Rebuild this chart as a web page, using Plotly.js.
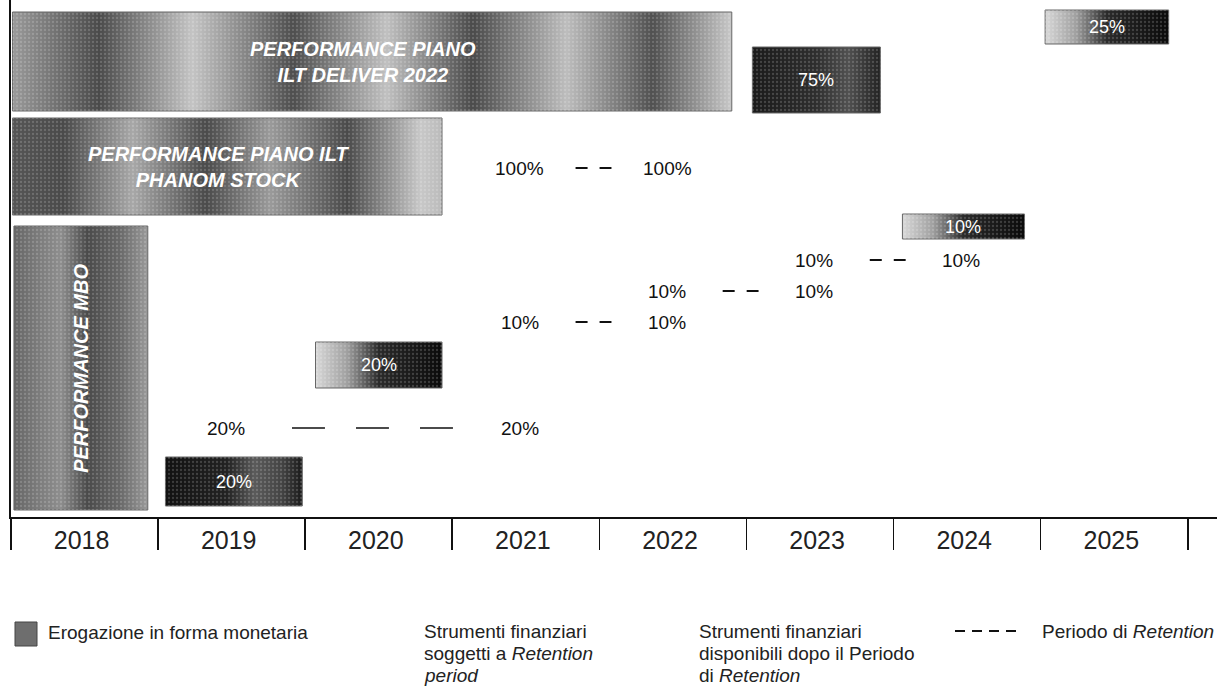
<!DOCTYPE html>
<html><head><meta charset="utf-8">
<script src="https://cdn.plot.ly/plotly-3.0.1.min.js"></script>
<style>html,body{margin:0;padding:0;background:#fff}#chart{width:1217px;height:690px}</style>
</head><body><div id="chart"></div>
<script>
// ---------- DATA ----------
const years = [2018, 2019, 2020, 2021, 2022, 2023, 2024, 2025];
const yearBounds = [2018, 2019, 2020, 2021, 2022, 2023, 2024, 2025, 2026];

// Cash payments (Erogazione in forma monetaria) - blocks on the timeline
const barLabels = ['PERFORMANCE PIANO<br>ILT DELIVER 2022', '75%', '25%',
                   'PERFORMANCE PIANO ILT<br>PHANOM STOCK', 'PERFORMANCE MBO',
                   '20%', '20%', '10%'];
const barStart  = [2018.01, 2023.04, 2025.03, 2018.01, 2018.02, 2019.05, 2020.07, 2024.06];
const barEnd    = [2022.90, 2023.91, 2025.87, 2020.93, 2018.93, 2019.98, 2020.93, 2024.89];
const barBottom = [40.6, 40.4, 47.3, 30.2, 0.7, 1.1, 12.9, 27.8];
const barTop    = [50.5, 47.0, 50.7, 39.9, 29.1, 6.0, 17.5, 30.3];

// Retention periods: share, start year, end year, row level
const retPct   = ['100%', '20%', '10%', '10%', '10%'];
const retStart = [2021, 2019, 2021, 2022, 2023];
const retEnd   = [2022, 2021, 2022, 2023, 2024];
const retRow   = [34.9, 8.9, 19.5, 22.6, 25.7];

// Legend texts
const legendItems = ['Erogazione in forma monetaria',
  ['Strumenti finanziari', 'soggetti a <i>Retention</i>', '<i>period</i>'],
  ['Strumenti finanziari', 'disponibili dopo il Periodo', 'di <i>Retention</i>'],
  'Periodo di <i>Retention</i>'];

// ---------- STYLE ----------
const FONT = 'Liberation Sans, Arial, Helvetica, sans-serif';
const scales = {
  band1: [[0,'#9a9a9a'],[0.12,'#4a4a4a'],[0.25,'#c4c4c4'],[0.39,'#4e4e4e'],[0.52,'#c0c0c0'],[0.64,'#4a4a4a'],[0.77,'#bdbdbd'],[0.89,'#505050'],[1,'#c8c8c8']],
  band2: [[0,'#555'],[0.12,'#4a4a4a'],[0.28,'#a8a8a8'],[0.45,'#4a4a4a'],[0.6,'#9a9a9a'],[0.78,'#4a4a4a'],[0.95,'#c8c8c8'],[1,'#bbb']],
  mbo:   [[0,'#666'],[0.35,'#8e8e8e'],[0.55,'#4a4a4a'],[0.8,'#6a6a6a'],[1,'#9a9a9a']],
  dark:  [[0,'#1a1a1a'],[0.5,'#2e2e2e'],[0.75,'#505050'],[1,'#222']],
  fade:  [[0,'#d8d8d8'],[0.25,'#a0a0a0'],[0.5,'#2a2a2a'],[1,'#0a0a0a']],
  dark2: [[0,'#111'],[0.45,'#222'],[0.65,'#5a5a5a'],[0.85,'#444'],[1,'#1a1a1a']]
};
const barScale = ['band1','dark','fade','band2','mbo','dark2','fade','fade'];

// ---------- TRACES ----------
const traces = [];
barLabels.forEach((lab, i) => {
  const x0 = barStart[i], x1 = barEnd[i], y0 = barBottom[i], y1 = barTop[i];
  const xs = [x0, x1, x1, x0, x0], ys = [y0, y0, y1, y1, y0];
  traces.push({
    type: 'scatter', mode: 'lines', x: xs, y: ys,
    fill: 'toself', fillgradient: {type: 'horizontal', colorscale: scales[barScale[i]]},
    line: {color: '#666', width: 1}, hoverinfo: 'skip', showlegend: false
  });
  // speckle overlay imitating the printed halftone texture
  traces.push({
    type: 'scatter', mode: 'lines', x: xs, y: ys, fill: 'toself',
    fillcolor: 'rgba(0,0,0,0)',
    fillpattern: {shape: '.', size: 4, solidity: 0.25, fgcolor: 'rgba(255,255,255,0.35)', bgcolor: 'rgba(0,0,0,0)', fillmode: 'overlay'},
    line: {width: 0}, hoverinfo: 'skip', showlegend: false
  });
});
retPct.forEach((p, i) => {
  const span = retEnd[i] - retStart[i];
  const mid = (retStart[i] + retEnd[i]) / 2 + 0.46;
  const h = span >= 2 ? 0.55 : 0.122;
  traces.push({
    type: 'scatter', mode: 'lines', x: [mid - h, mid + h], y: [retRow[i], retRow[i]],
    line: {color: '#111', width: span >= 2 ? 1.3 : 2, dash: span >= 2 ? '33px,31px' : '12px,12px'},
    hoverinfo: 'skip', showlegend: false
  });
});

// ---------- ANNOTATIONS ----------
const ann = [];
barLabels.forEach((lab, i) => {
  const isTitle = lab.indexOf('PERFORMANCE') >= 0;
  const vertical = (barTop[i] - barBottom[i]) > 20;
  ann.push({
    xref: 'x', yref: 'y', x: (barStart[i] + barEnd[i]) / 2 - (isTitle && !vertical ? 0.06 : 0),
    y: (barBottom[i] + barTop[i]) / 2,
    text: isTitle ? '<b><i>' + lab + '</i></b>' : lab, showarrow: false,
    textangle: vertical ? -90 : 0,
    font: {family: FONT, size: isTitle ? 20 : 18, color: '#fff'}
  });
});
retPct.forEach((p, i) => {
  [retStart[i], retEnd[i]].forEach(yr => {
    ann.push({xref: 'x', yref: 'y', x: yr + 0.46, y: retRow[i], text: p, showarrow: false,
      font: {family: FONT, size: 19, color: '#111'}});
  });
});
// legend (paper coords: plot area is 11..1217 px wide, 0..517 px tall)
const px = v => (v - 11) / 1206;
const py = v => (517 - v) / 517;
ann.push({xref: 'paper', yref: 'paper', x: px(46), y: py(632), xanchor: 'left', yanchor: 'middle',
  text: legendItems[0], showarrow: false, font: {family: FONT, size: 19, color: '#222'}});
[[422, legendItems[1]], [697, legendItems[2]]].forEach(([x, lines]) => {
  lines.forEach((t, k) => ann.push({xref: 'paper', yref: 'paper', x: px(x), y: py(631 + k * 22.5),
    xanchor: 'left', yanchor: 'middle', text: t, showarrow: false,
    font: {family: FONT, size: 19, color: '#222'}}));
});
ann.push({xref: 'paper', yref: 'paper', x: px(1040), y: py(631), xanchor: 'left', yanchor: 'middle',
  text: legendItems[3], showarrow: false, font: {family: FONT, size: 19, color: '#222'}});

const shapes = [
  {type: 'rect', xref: 'paper', yref: 'paper', x0: px(15), x1: px(37), y0: py(646), y1: py(622),
   fillcolor: '#6e6e6e', line: {color: '#444', width: 1}},
  {type: 'line', xref: 'paper', yref: 'paper', x0: px(955), x1: px(1022), y0: py(631), y1: py(631),
   line: {color: '#111', width: 2, dash: '10px,7px'}}
];

const layout = {
  width: 1217, height: 690, margin: {l: 11, r: 0, t: 0, b: 173},
  paper_bgcolor: '#fff', plot_bgcolor: '#fff', showlegend: false,
  xaxis: {range: [2018, 2018 + 1206 / 147.1], tickmode: 'array', tickvals: years.map(y => y + 0.48),
    ticktext: years.map(String), ticks: '', showgrid: false, zeroline: false,
    showline: true, linecolor: '#111', linewidth: 2, ticklabelstandoff: 0,
    tickfont: {family: FONT, size: 25, color: '#222'},
    minor: {tickmode: 'array', tickvals: yearBounds, ticks: 'outside', ticklen: 31, tickwidth: 1.6, tickcolor: '#111', showgrid: false},
    fixedrange: true},
  yaxis: {range: [0, 51.7], showticklabels: false, ticks: '', showgrid: false, zeroline: false,
    showline: true, linecolor: '#111', linewidth: 2, fixedrange: true},
  annotations: ann, shapes: shapes
};
Plotly.newPlot('chart', traces, layout, {displayModeBar: false, staticPlot: true});
</script></body></html>
